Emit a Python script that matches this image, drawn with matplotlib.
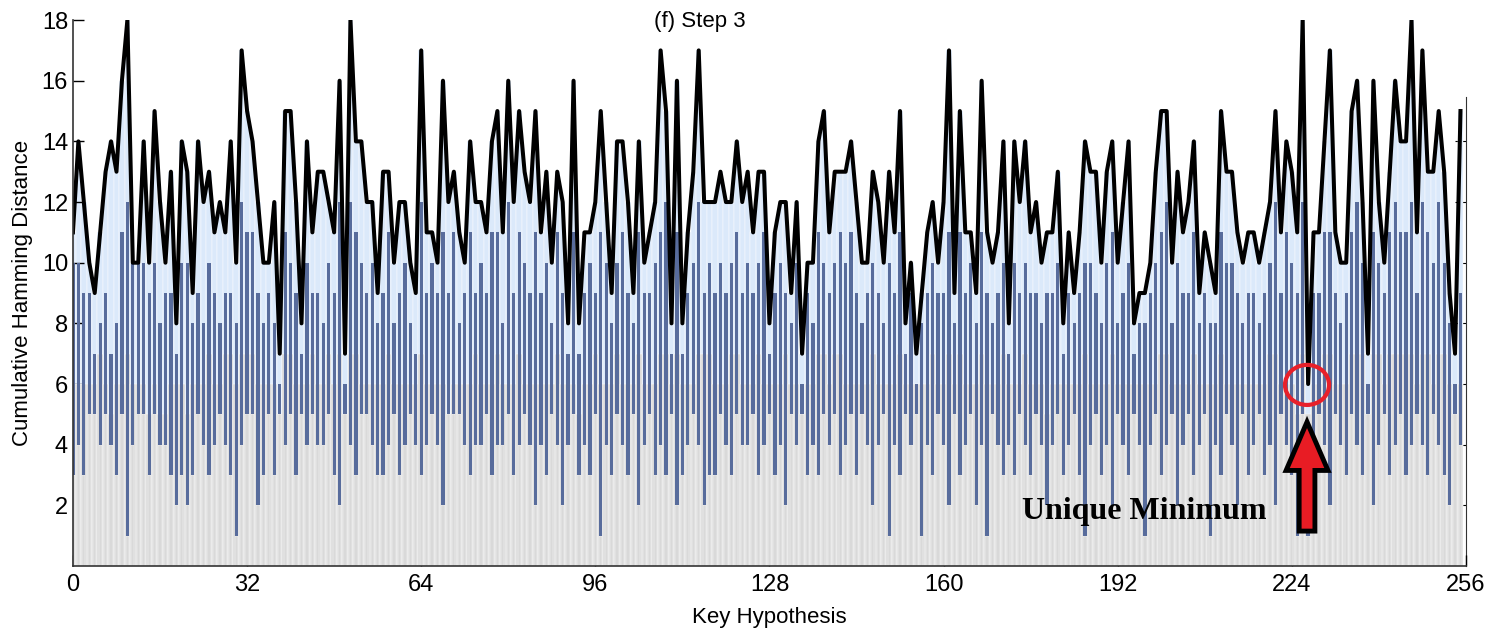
import matplotlib
matplotlib.use("Agg")
import matplotlib.pyplot as plt
import matplotlib.patches as mpatches
import numpy as np

# cumulative hamming distance after step 3 (black line), keys 0..255
total = [
    11, 14, 12, 10, 9, 11, 13, 14, 13, 16, 18, 10, 10, 14, 10, 15,
    12, 10, 13, 8, 14, 13, 9, 14, 12, 13, 11, 12, 11, 14, 10, 17,
    15, 14, 12, 10, 10, 12, 7, 15, 15, 12, 8, 14, 11, 13, 13, 12,
    11, 16, 7, 18, 14, 14, 12, 12, 9, 13, 13, 10, 12, 12, 10, 9,
    17, 11, 11, 10, 16, 12, 13, 11, 10, 14, 12, 12, 11, 14, 15, 11,
    16, 12, 15, 13, 12, 15, 11, 13, 10, 13, 12, 8, 16, 8, 11, 11,
    12, 15, 12, 9, 14, 14, 12, 9, 14, 10, 11, 12, 17, 15, 8, 16,
    8, 11, 13, 17, 12, 12, 12, 13, 12, 12, 14, 12, 13, 11, 13, 13,
    8, 11, 12, 12, 9, 12, 7, 10, 10, 14, 15, 11, 13, 13, 13, 14,
    12, 10, 10, 13, 12, 10, 13, 11, 15, 8, 10, 7, 9, 11, 12, 10,
    12, 17, 9, 15, 11, 11, 9, 16, 11, 10, 11, 14, 8, 14, 12, 14,
    11, 12, 10, 11, 11, 13, 8, 11, 9, 11, 14, 13, 13, 10, 13, 14,
    10, 12, 14, 8, 9, 9, 10, 13, 15, 15, 10, 13, 11, 12, 14, 9,
    11, 10, 9, 15, 13, 13, 11, 10, 11, 11, 10, 11, 12, 15, 11, 14,
    13, 11, 18, 6, 11, 11, 14, 17, 11, 10, 10, 15, 16, 12, 7, 16,
    12, 10, 13, 16, 14, 14, 18, 11, 17, 13, 13, 15, 13, 9, 7, 15,
]

# top of the dark blue bars
dark_top = [
    10, 10, 9, 9, 7, 8, 9, 7, 8, 11, 12, 10, 10, 10, 9, 10,
    8, 9, 9, 7, 10, 10, 8, 9, 8, 10, 9, 8, 9, 9, 8, 12,
    11, 11, 9, 8, 9, 8, 6, 11, 10, 9, 7, 10, 9, 9, 8, 10,
    9, 12, 6, 12, 11, 10, 9, 10, 8, 9, 11, 8, 9, 10, 8, 7,
    12, 9, 10, 9, 11, 9, 11, 8, 9, 11, 9, 10, 9, 11, 11, 8,
    12, 9, 11, 10, 9, 11, 9, 10, 8, 11, 9, 7, 11, 7, 9, 10,
    9, 11, 10, 8, 10, 11, 9, 8, 11, 9, 9, 10, 11, 12, 7, 11,
    7, 9, 10, 12, 9, 10, 9, 10, 9, 10, 11, 9, 10, 9, 10, 11,
    7, 9, 10, 9, 8, 10, 6, 9, 8, 11, 10, 9, 10, 11, 10, 11,
    9, 8, 9, 10, 9, 8, 10, 9, 11, 7, 9, 6, 8, 9, 10, 9,
    9, 11, 8, 11, 9, 10, 8, 11, 9, 8, 9, 10, 7, 10, 9, 10,
    9, 9, 8, 9, 9, 10, 7, 9, 8, 9, 10, 10, 9, 8, 10, 11,
    8, 9, 10, 7, 8, 8, 9, 10, 11, 12, 8, 10, 9, 9, 11, 8,
    9, 8, 8, 11, 10, 10, 9, 8, 9, 9, 8, 9, 10, 12, 9, 11,
    10, 9, 12, 4, 9, 9, 11, 11, 9, 8, 9, 11, 12, 10, 6, 11,
    10, 9, 11, 12, 11, 11, 12, 9, 12, 11, 10, 12, 10, 8, 6, 9,
]

# bottom of the dark blue bars
dark_bottom = [
    3, 4, 3, 5, 5, 4, 5, 4, 3, 5, 1, 4, 5, 5, 3, 5,
    4, 4, 3, 2, 3, 2, 3, 5, 4, 3, 4, 5, 4, 3, 1, 4,
    5, 5, 2, 3, 5, 3, 5, 4, 5, 3, 5, 4, 5, 4, 4, 5,
    3, 2, 5, 4, 3, 5, 5, 4, 3, 3, 4, 5, 3, 4, 5, 4,
    3, 4, 5, 4, 2, 5, 5, 5, 4, 3, 4, 4, 5, 3, 4, 4,
    5, 3, 4, 5, 4, 2, 4, 3, 5, 4, 2, 4, 5, 3, 4, 3,
    5, 1, 4, 3, 5, 4, 3, 5, 2, 4, 5, 3, 4, 3, 5, 2,
    3, 4, 5, 4, 2, 3, 3, 5, 4, 3, 5, 4, 4, 5, 3, 4,
    5, 3, 4, 2, 5, 4, 5, 3, 4, 3, 5, 4, 5, 3, 4, 5,
    3, 5, 4, 2, 4, 5, 1, 4, 3, 5, 4, 5, 1, 4, 3, 5,
    4, 2, 5, 3, 4, 5, 2, 4, 1, 5, 4, 3, 4, 3, 5, 4,
    3, 5, 4, 2, 4, 5, 3, 4, 5, 3, 1, 4, 5, 3, 4, 2,
    5, 4, 3, 5, 4, 1, 4, 5, 3, 4, 5, 2, 4, 5, 3, 4,
    5, 1, 4, 3, 5, 4, 2, 5, 3, 4, 5, 3, 4, 2, 5, 4,
    3, 1, 5, 1, 3, 5, 4, 2, 5, 4, 3, 5, 4, 3, 5, 2,
    4, 5, 3, 4, 5, 3, 4, 5, 4, 3, 5, 4, 3, 2, 5, 4,
]

# height of the grey part of the wide bars
grey_level = [
    6, 6, 6, 6, 6, 7, 6, 5, 6, 6, 7, 6, 6, 6, 5, 6,
    5, 5, 6, 6, 6, 5, 6, 6, 6, 7, 6, 6, 7, 7, 6, 7,
    7, 7, 6, 6, 6, 6, 5, 7, 7, 6, 6, 6, 7, 6, 6, 7,
    6, 7, 5, 7, 7, 6, 6, 6, 6, 6, 7, 6, 6, 6, 6, 6,
    7, 6, 6, 6, 6, 5, 6, 6, 6, 6, 7, 6, 6, 6, 7, 6,
    6, 6, 7, 6, 6, 6, 6, 6, 6, 7, 6, 6, 6, 5, 6, 6,
    7, 6, 6, 6, 7, 6, 6, 6, 7, 6, 6, 6, 7, 7, 6, 7,
    6, 6, 6, 7, 7, 7, 6, 6, 6, 7, 7, 6, 6, 6, 7, 6,
    6, 6, 6, 7, 6, 6, 5, 6, 6, 7, 7, 6, 7, 7, 6, 6,
    6, 6, 6, 7, 6, 6, 6, 6, 7, 6, 6, 6, 6, 6, 7, 6,
    6, 7, 6, 7, 6, 6, 6, 7, 6, 6, 6, 7, 6, 6, 6, 7,
    6, 6, 6, 5, 6, 6, 6, 6, 6, 6, 7, 6, 6, 6, 6, 7,
    6, 6, 6, 6, 6, 6, 6, 6, 7, 7, 6, 6, 6, 6, 7, 6,
    6, 6, 6, 7, 6, 6, 6, 6, 6, 6, 6, 6, 7, 7, 6, 6,
    6, 5, 7, 5, 6, 6, 7, 7, 6, 6, 6, 7, 7, 7, 5, 7,
    7, 6, 7, 7, 7, 7, 7, 6, 7, 7, 6, 7, 7, 6, 5, 6,
]

x_ticks = [0, 32, 64, 96, 128, 160, 192, 224, 256]
y_ticks = [2, 4, 6, 8, 10, 12, 14, 16, 18]
min_key = 227

LIGHT = "#dbe9fa"
GREY = "#d9d9d9"
DARK = "#586c9c"

plt.rcParams["font.family"] = ["Liberation Sans", "DejaVu Sans"]

fig = plt.figure(figsize=(14.89, 6.37), dpi=100)
ax = fig.add_axes([0.049, 0.1115, 0.9355, 0.857])

keys = np.arange(len(total))
total = np.array(total)
dark_top = np.array(dark_top)
dark_bottom = np.array(dark_bottom)
grey_level = np.array(grey_level)

# wide bars: light blue up to the total, grey underneath
ax.bar(keys, total, width=1.0, color=LIGHT, edgecolor="white", linewidth=0.3, zorder=1)
ax.bar(keys, grey_level, width=1.0, color=GREY, edgecolor="white", linewidth=0.3, zorder=2)
# narrow bars: grey base and floating dark blue part
ax.bar(keys, dark_bottom, width=0.6, color=GREY, edgecolor="white", linewidth=0.3, zorder=3)
ax.bar(keys, dark_top - dark_bottom, bottom=dark_bottom, width=0.6,
       color=DARK, linewidth=0, zorder=3)

ax.plot(keys, total, color="black", lw=2.9, zorder=5)

ax.set_xlim(0, 256)
ax.set_ylim(0, 18)
ax.set_xticks(x_ticks)
ax.set_yticks(y_ticks)
ax.tick_params(direction="in", length=8, width=1, labelsize=17, right=False, top=False, zorder=6)
ax.tick_params(axis="x", pad=6)
ax.spines["top"].set_visible(False)
ax.spines["right"].set_visible(False)
for s in ["left", "bottom"]:
    ax.spines[s].set_linewidth(1.2)
    ax.spines[s].set_color("#333333")
    ax.spines[s].set_zorder(7)

sec = ax.secondary_yaxis("right")
sec.set_yticks([2, 4, 6, 8, 10, 12, 14])
sec.tick_params(direction="in", length=8, labelright=False)
sec.spines["right"].set_bounds(0, 15.45)
sec.spines["right"].set_color("#333333")

ax.set_xlabel("Key Hypothesis", fontsize=16, labelpad=8)
ax.set_ylabel("Cumulative Hamming Distance", fontsize=16, labelpad=6)
fig.text(700 / 1489, 1 - 22 / 637, "(f) Step 3", fontsize=16, ha="center", va="center")

# unique minimum marker
circle = mpatches.Ellipse((min_key - 0.2, 5.97), 8.1, 1.32, fill=False,
                          edgecolor="#e8202a", lw=3, zorder=8)
ax.add_patch(circle)
arrow = mpatches.FancyArrow(min_key - 0.2, 1.15, 0, 3.6, width=2.9, head_width=7.7,
                            head_length=1.6, length_includes_head=True,
                            facecolor="#e81c24", edgecolor="black", lw=3.5, zorder=8)
ax.add_patch(arrow)
ax.text(196.9, 1.8, "Unique Minimum", family=["Liberation Serif", "DejaVu Serif"],
        fontweight="bold", fontsize=23, ha="center", va="center", zorder=9)

fig.savefig("out.png", dpi=100)
